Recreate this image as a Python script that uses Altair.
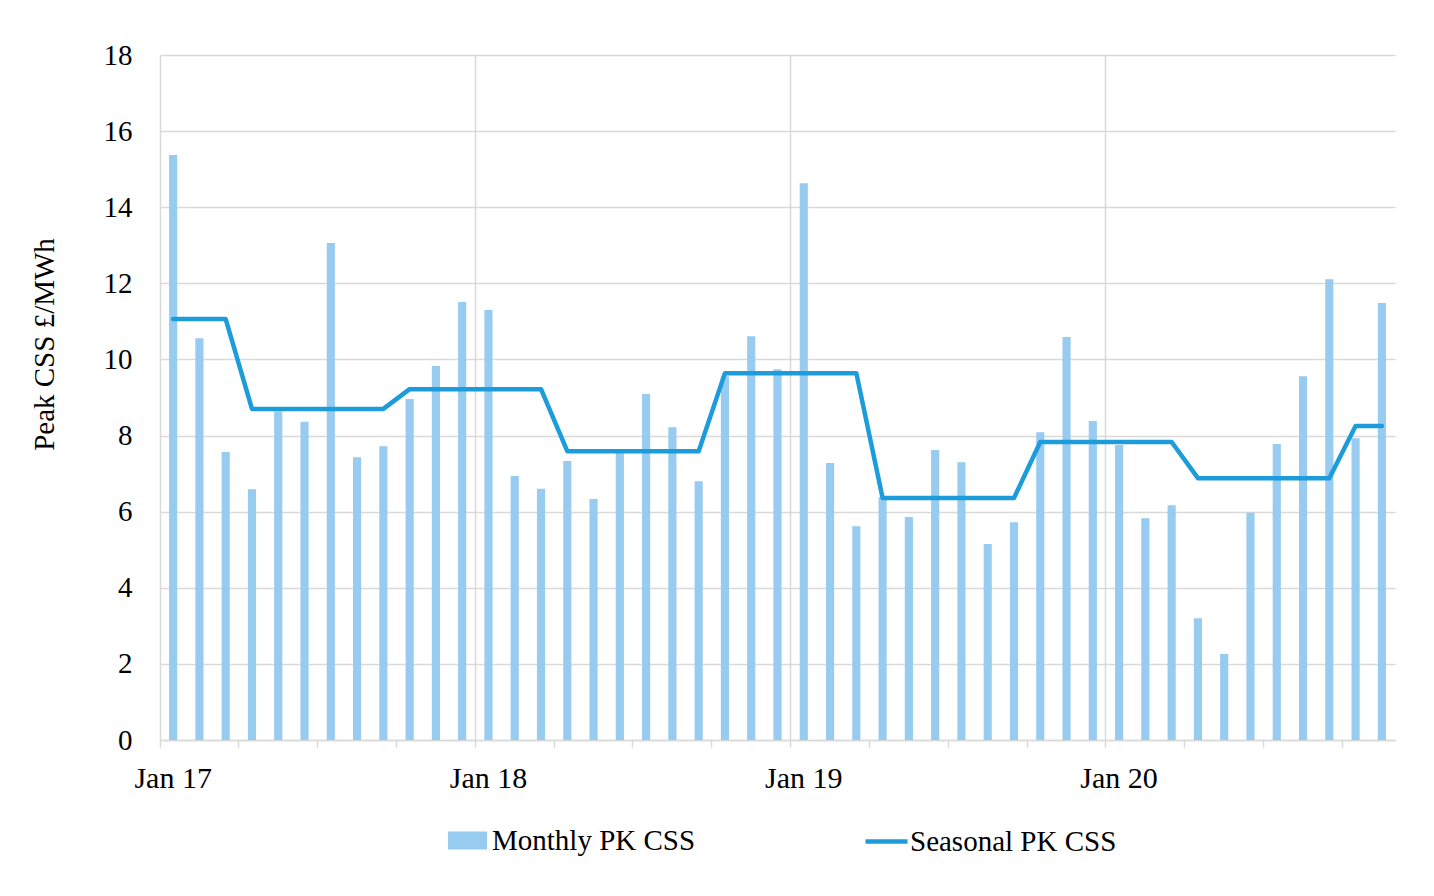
import altair as alt
import pandas as pd

months = [
    "Jan 17", "Feb 17", "Mar 17", "Apr 17", "May 17", "Jun 17", "Jul 17", "Aug 17", "Sep 17", "Oct 17", "Nov 17", "Dec 17",
    "Jan 18", "Feb 18", "Mar 18", "Apr 18", "May 18", "Jun 18", "Jul 18", "Aug 18", "Sep 18", "Oct 18", "Nov 18", "Dec 18",
    "Jan 19", "Feb 19", "Mar 19", "Apr 19", "May 19", "Jun 19", "Jul 19", "Aug 19", "Sep 19", "Oct 19", "Nov 19", "Dec 19",
    "Jan 20", "Feb 20", "Mar 20", "Apr 20", "May 20", "Jun 20", "Jul 20", "Aug 20", "Sep 20", "Oct 20", "Nov 20",
]

monthly_pk_css = [
    15.37, 10.56, 7.57, 6.59, 8.63, 8.36, 13.06, 7.43, 7.72, 8.96, 9.83, 11.51,
    11.30, 6.94, 6.60, 7.33, 6.33, 7.54, 9.09, 8.22, 6.80, 9.56, 10.61, 9.74,
    14.63, 7.28, 5.62, 6.38, 5.86, 7.62, 7.30, 5.15, 5.72, 8.09, 10.59, 8.38,
    7.75, 5.83, 6.17, 3.20, 2.26, 5.97, 7.78, 9.56, 12.11, 7.93, 11.48,
]

seasonal_pk_css = [
    11.06, 11.06, 11.06, 8.70, 8.70, 8.70, 8.70, 8.70, 8.70, 9.22, 9.22, 9.22,
    9.22, 9.22, 9.22, 7.59, 7.59, 7.59, 7.59, 7.59, 7.59, 9.64, 9.64, 9.64,
    9.64, 9.64, 9.64, 6.36, 6.36, 6.36, 6.36, 6.36, 6.36, 7.83, 7.83, 7.83,
    7.83, 7.83, 7.83, 6.88, 6.88, 6.88, 6.88, 6.88, 6.88, 8.25, 8.25,
]

y_ticks = [0, 2, 4, 6, 8, 10, 12, 14, 16, 18]
x_tick_months = months[0::3]
year_grid_months = ["Jan 18", "Jan 19", "Jan 20"]

df = pd.DataFrame({"month": months, "monthly": monthly_pk_css, "seasonal": seasonal_pk_css})

FONT = "Liberation Serif"
GRID = "#D9D9D9"
BAR = "#97CBEF"
LINE = "#1C9CDB"

grid_test = "indexof(" + str(year_grid_months) + ", datum.value) >= 0"

x_enc = alt.X(
    "month:N",
    sort=months,
    scale=alt.Scale(domain=months, paddingInner=0, paddingOuter=0),
    axis=alt.Axis(
        title=None,
        values=x_tick_months,
        labelExpr="slice(datum.label, 0, 3) == 'Jan' ? datum.label : ''",
        bandPosition=0,
        tickExtra=False,
        labelOffset=0,
        labelAngle=0,
        labelAlign="center",
        labelBaseline="top",
        labelFont=FONT,
        labelFontSize=30,
        labelColor="#000000",
        labelPadding=16,
        tickSize=7,
        tickColor=GRID,
        tickWidth=1.5,
        domainColor=GRID,
        domainWidth=1.5,
        grid=True,
        gridColor=GRID,
        gridWidth=1.5,
        gridOpacity={"condition": {"test": grid_test, "value": 1}, "value": 0},
    ),
)

y_scale = alt.Scale(domain=[0, 18], nice=False, zero=True)
y_axis = alt.Axis(
    title="Peak CSS £/MWh",
    values=y_ticks,
    ticks=False,
    labelFont=FONT,
    labelFontSize=29,
    labelColor="#000000",
    labelPadding=28,
    titleFont=FONT,
    titleFontSize=29,
    titleFontWeight="normal",
    titleColor="#000000",
    titleX=-107,
    titleY=289,
    titleAlign="center",
    titleBaseline="alphabetic",
    domainColor=GRID,
    domainWidth=1.5,
    gridColor=GRID,
    gridWidth=1.5,
)

bars = alt.Chart(df).transform_calculate(series="'Monthly PK CSS'").mark_bar(
    width=alt.RelativeBandSize(0.31)
).encode(
    x=x_enc,
    y=alt.Y("monthly:Q", scale=y_scale, axis=y_axis),
    fill=alt.Fill(
        "series:N",
        scale=alt.Scale(domain=["Monthly PK CSS"], range=[BAR]),
        legend=alt.Legend(
            title=None,
            orient="none",
            legendX=288,
            legendY=766,
            padding=0,
            symbolType="M-1,-0.46L1,-0.46L1,0.46L-1,0.46Z",
            symbolSize=1521,
            symbolStrokeWidth=0,
            symbolOpacity=1,
            labelOffset=5,
            labelLimit=0,
            labelFont=FONT,
            labelFontSize=29,
            labelColor="#000000",
        ),
    ),
)

line = alt.Chart(df).transform_calculate(series="'Seasonal PK CSS'").mark_line(
    strokeWidth=4.5, strokeCap="round", strokeJoin="round"
).encode(
    x=alt.X("month:N", sort=months),
    y=alt.Y("seasonal:Q", scale=y_scale),
    stroke=alt.Stroke(
        "series:N",
        scale=alt.Scale(domain=["Seasonal PK CSS"], range=[LINE]),
        legend=alt.Legend(
            title=None,
            orient="none",
            legendX=703,
            legendY=763,
            padding=0,
            symbolType="stroke",
            symbolSize=1764,
            symbolStrokeWidth=4.5,
            labelOffset=0,
            labelLimit=0,
            labelFont=FONT,
            labelFontSize=29,
            labelColor="#000000",
        ),
    ),
)

chart = alt.layer(bars, line).resolve_scale(fill="independent", stroke="independent").properties(
    width=1235,
    height=685,
    background="white",
    autosize=alt.AutoSizeParams(type="none"),
    padding={"left": 152, "top": 47, "right": 31, "bottom": 140},
).configure(
    style={"cell": {"stroke": "transparent", "strokeOpacity": 0}},
).configure_view(stroke="transparent", strokeWidth=0, strokeOpacity=0)

chart.save("out.html", embed_options={"renderer": "svg", "actions": False})
